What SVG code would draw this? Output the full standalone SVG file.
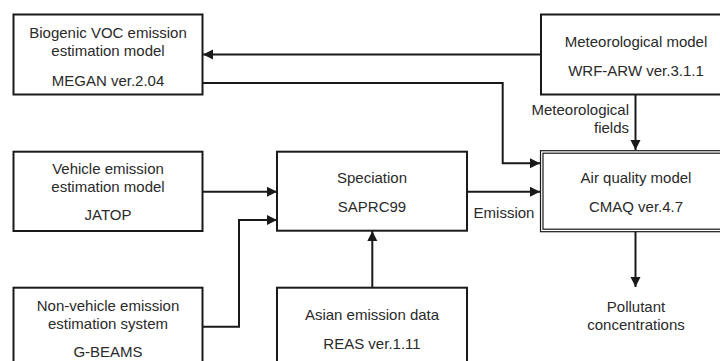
<svg xmlns="http://www.w3.org/2000/svg" width="720" height="361" viewBox="0 0 720 361">
<defs>
<style>
.box{fill:#fff;stroke:#1a1a1a;stroke-width:2}
.t{font-family:"Liberation Sans",Arial,sans-serif;font-size:15px;fill:#2a2a2a;text-anchor:middle}
.r{text-anchor:end}
.c{fill:none;stroke:#1a1a1a;stroke-width:2}
</style>
<marker id="ah" markerUnits="userSpaceOnUse" markerWidth="12" markerHeight="12" viewBox="0 0 12 12" refX="11" refY="6" orient="auto">
<path d="M1,1 L11,6 L1,11 Z" fill="#1a1a1a"/>
</marker>
</defs>
<rect width="720" height="361" fill="#fff"/>
<g id="connectors">
<path class="c" d="M541,54.5 H203" marker-end="url(#ah)"/>
<path class="c" d="M202.5,83 H502.7 V163.3 H540" marker-end="url(#ah)"/>
<path class="c" d="M635.5,94.5 V150" marker-end="url(#ah)"/>
<path class="c" d="M202.5,191.7 H277" marker-end="url(#ah)"/>
<path class="c" d="M202.5,326.7 H239 V220 H277" marker-end="url(#ah)"/>
<path class="c" d="M372.3,287.7 V231" marker-end="url(#ah)"/>
<path class="c" d="M467,191.7 H540" marker-end="url(#ah)"/>
<path class="c" d="M635.5,231 V287" marker-end="url(#ah)"/>
</g>
<g id="biogenic">
<rect class="box" x="13.5" y="14.5" width="189" height="80"/>
<text class="t" x="108" y="37.5">Biogenic VOC emission</text>
<text class="t" x="108" y="55.5">estimation model</text>
<text class="t" x="108" y="85.5">MEGAN ver.2.04</text>
</g>
<g id="meteo">
<rect class="box" x="541" y="14.5" width="200" height="80"/>
<text class="t" x="636" y="46.5">Meteorological model</text>
<text class="t" x="636" y="75.5">WRF-ARW ver.3.1.1</text>
</g>
<g id="meteo-label">
<text class="t r" x="629" y="114.5">Meteorological</text>
<text class="t r" x="629" y="132.5">fields</text>
</g>
<g id="vehicle">
<rect class="box" x="13.5" y="151.7" width="189" height="79.3"/>
<text class="t" x="108" y="173.7">Vehicle emission</text>
<text class="t" x="108" y="192">estimation model</text>
<text class="t" x="108" y="219.5">JATOP</text>
</g>
<g id="speciation">
<rect class="box" x="277" y="151.7" width="190" height="79"/>
<text class="t" x="372" y="183">Speciation</text>
<text class="t" x="372" y="212">SAPRC99</text>
</g>
<g id="emission-label">
<text class="t" x="504" y="217.5">Emission</text>
</g>
<g id="airquality">
<rect x="540.5" y="150.7" width="200" height="81" fill="#fff" stroke="#1a1a1a" stroke-width="1.2"/>
<rect x="543" y="153.2" width="200" height="76" fill="none" stroke="#1a1a1a" stroke-width="1.2"/>
<text class="t" x="636" y="183">Air quality model</text>
<text class="t" x="636" y="212">CMAQ ver.4.7</text>
</g>
<g id="pollutant">
<text class="t" x="636" y="311.5">Pollutant</text>
<text class="t" x="636" y="329.5">concentrations</text>
</g>
<g id="nonvehicle">
<rect class="box" x="13.5" y="287.7" width="189" height="90"/>
<text class="t" x="108" y="311">Non-vehicle emission</text>
<text class="t" x="108" y="329">estimation system</text>
<text class="t" x="108" y="357">G-BEAMS</text>
</g>
<g id="asian">
<rect class="box" x="277" y="287.7" width="190" height="90"/>
<text class="t" x="372" y="319.7">Asian emission data</text>
<text class="t" x="372" y="348.7">REAS ver.1.11</text>
</g>
</svg>
